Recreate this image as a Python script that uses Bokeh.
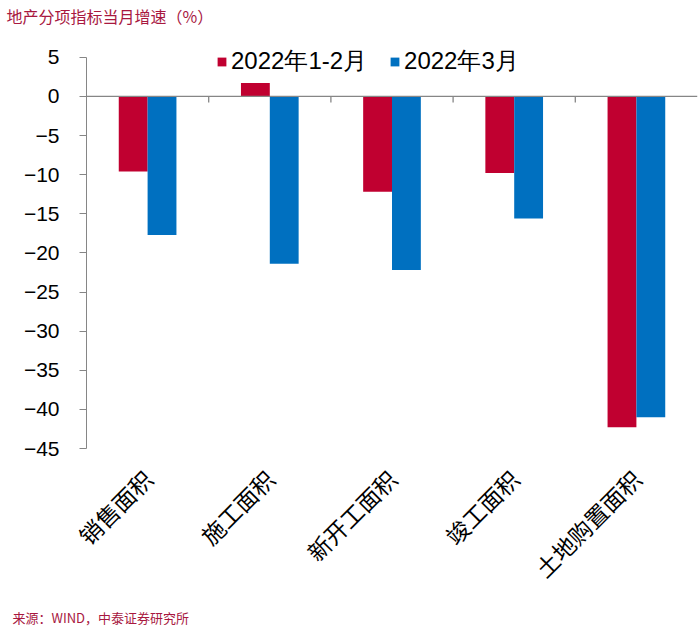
import math
from bokeh.plotting import figure
from bokeh.models import (ColumnDataSource, FactorRange, Range1d, Span,
                          FixedTicker, Title, Legend, LegendItem)
from bokeh.transform import dodge
from bokeh.embed import file_html
from bokeh.resources import INLINE

# ---- data ----
categories = ["销售面积", "施工面积", "新开工面积", "竣工面积", "土地购置面积"]
series_names = ["2022年1-2月", "2022年3月"]
jan_feb = [-9.6, 1.7, -12.2, -9.8, -42.3]
march = [-17.7, -21.4, -22.2, -15.6, -41.0]
y_ticks = [5, 0, -5, -10, -15, -20, -25, -30, -35, -40, -45]
title_text = "地产分项指标当月增速（%）"
source_text = "来源：WIND，中泰证券研究所"

RED = "#C00030"
BLUE = "#0070C0"
TXT_RED = "#A8183F"
AXIS_GREY = "#868686"

p = figure(width=700, height=634,
           x_range=FactorRange(*categories),
           y_range=Range1d(min(y_ticks), max(y_ticks) + 3.55),
           output_backend="svg", toolbar_location=None,
           min_border_left=86, min_border_right=3,
           min_border_top=26, min_border_bottom=186)
p.outline_line_color = None
p.grid.visible = False

# category axis (below)
xax = p.below[0]
xax.major_label_orientation = math.pi / 4
xax.major_label_text_font_size = "23px"
xax.major_label_text_font = "Noto Sans CJK SC"
xax.major_label_text_color = "#000000"
xax.axis_line_color = None
xax.major_tick_line_color = None
xax.minor_tick_line_color = None
xax.major_label_standoff = 20

# y axis
yax = p.left[0]
yax.ticker = FixedTicker(ticks=y_ticks)
yax.bounds = (min(y_ticks), max(y_ticks))
yax.major_label_text_font_size = "21px"
yax.major_label_text_font = "Liberation Sans"
yax.major_label_text_color = "#000000"
yax.axis_line_color = AXIS_GREY
yax.major_tick_line_color = AXIS_GREY
yax.major_tick_out = 7
yax.major_tick_in = 0
yax.minor_tick_line_color = None
yax.major_label_standoff = 20

src = ColumnDataSource(dict(cat=categories, a=jan_feb, b=march))
r1 = p.vbar(x=dodge("cat", -0.118, range=p.x_range), top="a", bottom=0,
            width=0.236, source=src, fill_color=RED, line_color=None)
r2 = p.vbar(x=dodge("cat", 0.118, range=p.x_range), top="b", bottom=0,
            width=0.236, source=src, fill_color=BLUE, line_color=None)

# zero line and ticks between categories
p.add_layout(Span(location=0, dimension="width", line_color=AXIS_GREY, line_width=1.3))
bsrc = ColumnDataSource(dict(cat=categories[:-1]))
p.segment(x0=dodge("cat", 0.5, range=p.x_range), x1=dodge("cat", 0.5, range=p.x_range),
          y0=0, y1=-0.78, source=bsrc, line_color=AXIS_GREY, line_width=1.3)

legend = Legend(items=[LegendItem(label=series_names[0], renderers=[r1]),
                       LegendItem(label=series_names[1], renderers=[r2])],
                orientation="horizontal", location=(130, 371),
                glyph_width=11, glyph_height=11,
                label_text_font_size="24px", label_text_font="Liberation Sans",
                label_text_color="#000000",
                spacing=22, label_standoff=4, padding=0, margin=0,
                border_line_color=None, background_fill_alpha=0)
p.add_layout(legend)

p.add_layout(Title(text=title_text, align="left", text_font_size="16px",
                   text_font="Noto Sans CJK SC", text_font_style="normal",
                   text_color=TXT_RED, offset=-80, standoff=3), "above")
p.add_layout(Title(text=source_text, align="left", text_font_size="13px",
                   text_font="Noto Sans CJK SC", text_font_style="normal",
                   text_color=TXT_RED, offset=-74, standoff=13), "below")

open("out.html", "w").write(file_html(p, INLINE))
